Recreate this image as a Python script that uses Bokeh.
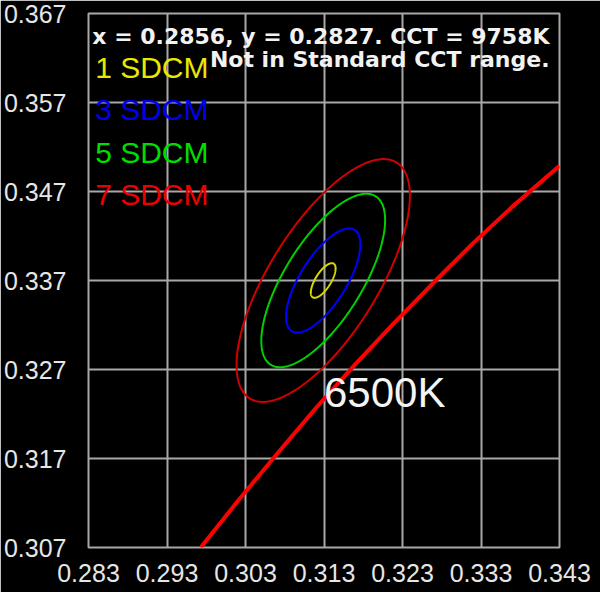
import numpy as np
from bokeh.plotting import figure
from bokeh.models import FixedTicker, PrintfTickFormatter
from bokeh.core.properties import value
from bokeh.embed import file_html
from bokeh.resources import INLINE

# ---- data ----
x_ticks = [0.283, 0.293, 0.303, 0.313, 0.323, 0.333, 0.343]
y_ticks = [0.307, 0.317, 0.327, 0.337, 0.347, 0.357, 0.367]

# Planckian locus segment (red line)
locus_x = [0.2973, 0.3020, 0.3070, 0.3120, 0.3170, 0.3220, 0.3270, 0.3320, 0.3370, 0.3430]
locus_y = [0.3070, 0.3122, 0.3175, 0.3227, 0.3276, 0.3323, 0.3368, 0.3412, 0.3453, 0.3499]

# MacAdam ellipse (1-step) parameters
center_x = 0.3129
center_y = 0.3370
a_1step = 0.00232
b_1step = 0.00095
theta_deg = 53.5
steps = [1, 3, 5, 7]
step_labels = ["1 SDCM", "3 SDCM", "5 SDCM", "7 SDCM"]
ellipse_colors = ["#d8d800", "#0000ff", "#00d000", "#d00000"]
label_colors = ["#e8e800", "#0000f0", "#00dd00", "#ee0000"]

header_1 = "x = 0.2856, y = 0.2827. CCT = 9758K"
header_2 = "Not in Standard CCT range."
cct_label = "6500K"

# ---- figure ----
p = figure(width=600, height=592, x_range=(0.283, 0.343), y_range=(0.307, 0.367),
           output_backend="svg", toolbar_location=None,
           background_fill_color="black", border_fill_color="black",
           min_border_left=88, min_border_right=41, min_border_top=13, min_border_bottom=45)

grid_col = "#a8a8a8"
p.outline_line_color = grid_col
p.outline_line_width = 2

for ax, ticks in ((p.xaxis, x_ticks), (p.yaxis, y_ticks)):
    ax.ticker = FixedTicker(ticks=ticks)
    ax.formatter = PrintfTickFormatter(format="%.3f")
    ax.axis_line_color = None
    ax.major_tick_line_color = None
    ax.minor_tick_line_color = None
    ax.major_label_text_color = "#e6e6e6"
    ax.major_label_text_font = "Liberation Sans"
    ax.major_label_text_font_size = "25px"
p.xaxis.major_label_standoff = 10
p.yaxis.major_label_standoff = 16

p.xgrid.grid_line_color = grid_col
p.ygrid.grid_line_color = grid_col
p.xgrid.grid_line_width = 2
p.ygrid.grid_line_width = 2

# ellipses
t = np.linspace(0, 2 * np.pi, 241)
th = np.deg2rad(theta_deg)
for k, col in zip(steps, ellipse_colors):
    a = a_1step * k
    b = b_1step * k
    ex = center_x + a * np.cos(t) * np.cos(th) - b * np.sin(t) * np.sin(th)
    ey = center_y + a * np.cos(t) * np.sin(th) + b * np.sin(t) * np.cos(th)
    p.line(ex, ey, line_color=col, line_width=2)

# locus
p.line(locus_x, locus_y, line_color="#ff0000", line_width=4)

# labels
label_y = [0.36091, 0.35617, 0.35143, 0.34668]
p.text(x=[0.28385] * 4, y=label_y, text=step_labels, text_color=label_colors,
       text_font=value("Liberation Sans"), text_font_size="30px",
       text_baseline="alphabetic", text_align="left")

p.text(x=[0.34173, 0.34173], y=[0.36437, 0.36183], text=[header_1, header_2],
       text_color="#f2f2f2", text_font=value("DejaVu Sans"), text_font_style="bold",
       text_font_size="22px", text_baseline="alphabetic", text_align="right")

p.text(x=[0.31300], y=[0.32441], text=[cct_label], text_color="#f4f4f4",
       text_font=value("Liberation Sans"), text_font_size="42px",
       text_baseline="alphabetic", text_align="left")

open("out.html", "w").write(file_html(p, INLINE))
